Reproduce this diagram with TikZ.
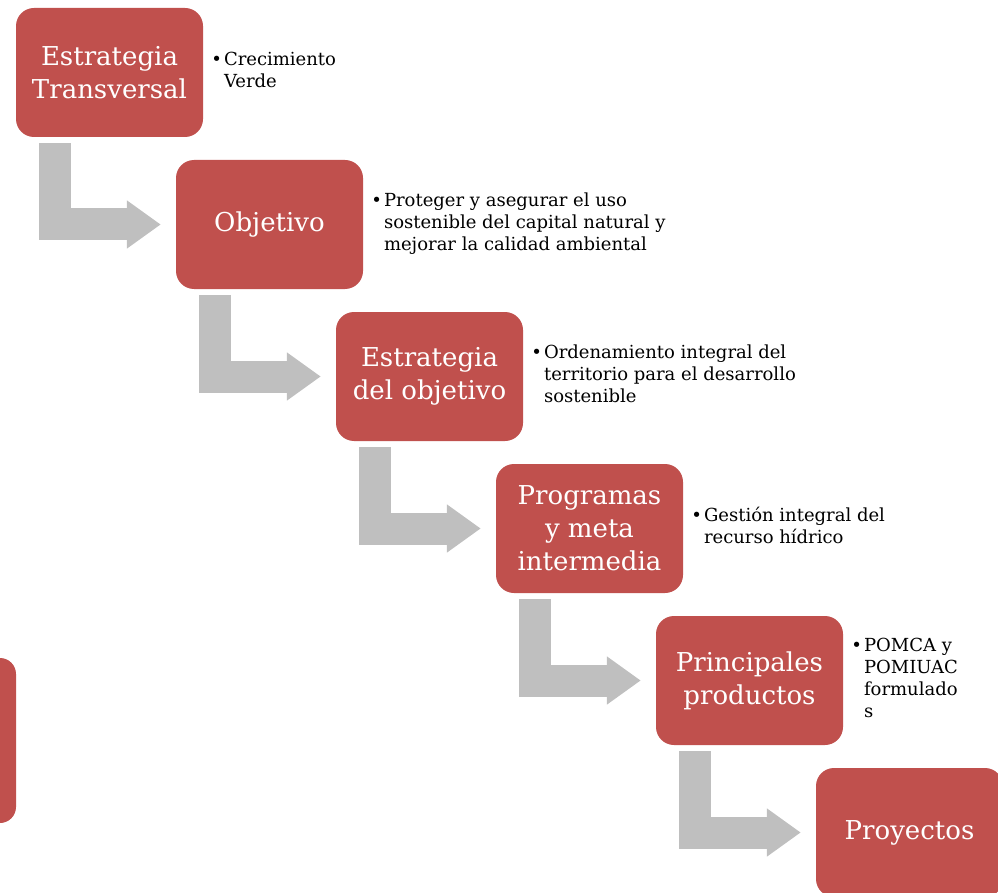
\documentclass[tikz,border=0pt]{standalone}
\usepackage{fontspec}
\setmainfont{DejaVu Serif}
\usetikzlibrary{positioning,arrows.meta}
\definecolor{rojocaja}{HTML}{C0504D}
\definecolor{grisflecha}{HTML}{BFBFBF}
\newcommand{\punto}[1]{\textbullet\hspace{2pt}\begin{tabular}[t]{@{}l@{}}#1\end{tabular}}

\begin{document}
\begin{tikzpicture}[x=1pt, y=-1pt,
    caja/.style = {fill=rojocaja, text=white, rounded corners=18pt,
      minimum width=187pt, minimum height=129pt, align=center,
      inner sep=0pt, font=\fontsize{26}{33}\selectfont},
    nota/.style = {inner sep=0pt, font=\fontsize{18}{22}\selectfont},
    flecha/.style = {draw=grisflecha, line width=32pt,
      -{Triangle[length=34pt, width=46pt]}}]
  \useasboundingbox (0,0) rectangle (998,893);
  \fill[rojocaja, rounded corners=16pt] (-120,658) rectangle (16,823);
  \node[caja] (transversal) at (109.5,72.5) {Estrategia\\Transversal};
  \node[caja] (objetivo) at (269.5,224.5) {Objetivo};
  \node[caja] (estrategia) at (429.5,376.5) {Estrategia\\del objetivo};
  \node[caja] (programas) at (589.5,528.5) {Programas\\y meta\\intermedia};
  \node[caja] (productos) at (749.5,680.5) {Principales\\productos};
  \node[caja] (proyectos) at (909.5,832.5) {Proyectos};
  \node[nota, right=8pt of transversal] (verde) {\punto{Crecimiento\\Verde}};
  \node[nota, right=8pt of objetivo] (capital) {\punto{Proteger y asegurar el uso\\sostenible del capital natural y\\mejorar la calidad ambiental}};
  \node[nota, right=8pt of estrategia] (territorio) {\punto{Ordenamiento integral del\\territorio para el desarrollo\\sostenible}};
  \node[nota, right=8pt of programas] (hidrico) {\punto{Gestión integral del\\recurso hídrico}};
  \node[nota, right=8pt of productos] (pomca) {\punto{POMCA y\\POMIUAC\\formulado\\s}};
  \path[flecha]
    ([xshift=39pt, yshift=-6pt]transversal.south west) |- ([xshift=-15pt]objetivo.west);
  \path[flecha]
    ([xshift=39pt, yshift=-6pt]objetivo.south west) |- ([xshift=-15pt]estrategia.west);
  \path[flecha]
    ([xshift=39pt, yshift=-6pt]estrategia.south west) |- ([xshift=-15pt]programas.west);
  \path[flecha]
    ([xshift=39pt, yshift=-6pt]programas.south west) |- ([xshift=-15pt]productos.west);
  \path[flecha]
    ([xshift=39pt, yshift=-6pt]productos.south west) |- ([xshift=-15pt]proyectos.west);
\end{tikzpicture}
\end{document}
